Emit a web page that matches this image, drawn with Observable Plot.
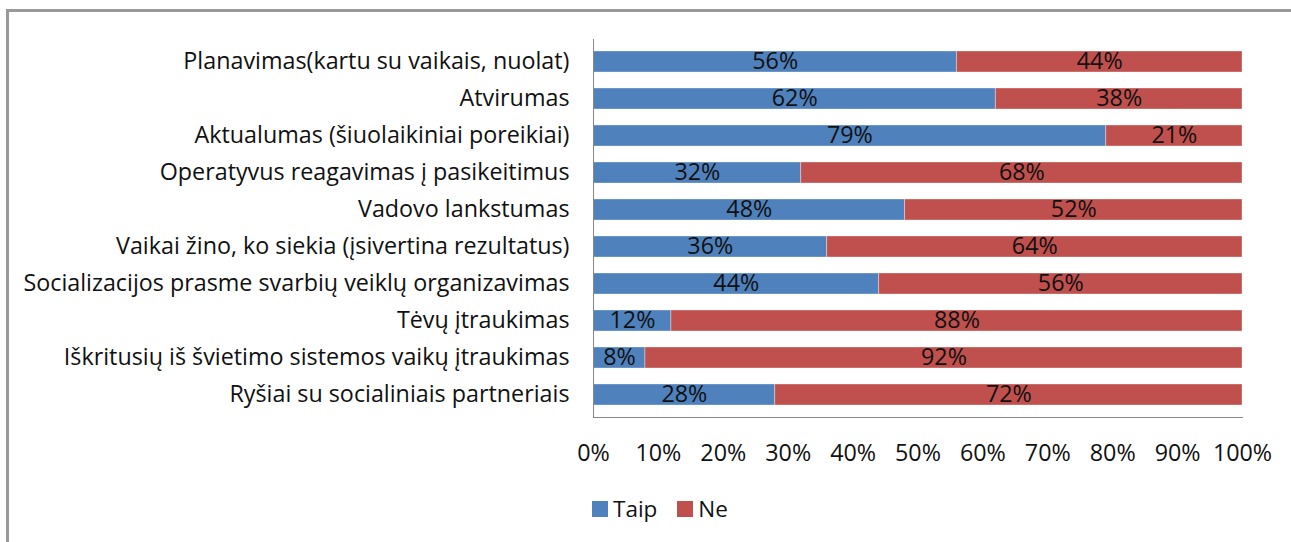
<!DOCTYPE html>
<html>
<head>
<meta charset="utf-8">
<script src="https://cdn.jsdelivr.net/npm/d3@7"></script>
<script src="https://cdn.jsdelivr.net/npm/@observablehq/plot@0.6"></script>
<style>
  html, body { margin: 0; padding: 0; background: #fff; overflow: hidden; }
  #wrap { position: relative; width: 1291px; height: 542px; overflow: hidden; font-family: "Open Sans", sans-serif; }
  #ftop { position: absolute; left: 6px; top: 9px; width: 1285px; height: 3px; background: #999; }
  #fleft { position: absolute; left: 6px; top: 9px; width: 3px; height: 533px; background: #999; }
  #chart { position: absolute; left: 0; top: 0; }
  #legend { position: absolute; top: 493px; left: 592px; display: flex; align-items: center; font-size: 22.5px; color: #111; }
  #legend .sw { display: inline-block; width: 16px; height: 16px; margin-right: 5px; }
  #legend .item { display: flex; align-items: center; margin-right: 20px; }
</style>
</head>
<body>
<div id="wrap">
  <div id="ftop"></div>
  <div id="fleft"></div>
  <div id="chart"></div>
  <div id="legend"></div>
</div>
<script>
const categories = [
  "Planavimas(kartu su vaikais, nuolat)",
  "Atvirumas",
  "Aktualumas (šiuolaikiniai poreikiai)",
  "Operatyvus reagavimas į pasikeitimus",
  "Vadovo lankstumas",
  "Vaikai žino, ko siekia (įsivertina rezultatus)",
  "Socializacijos prasme svarbių veiklų organizavimas",
  "Tėvų įtraukimas",
  "Iškritusių iš švietimo sistemos vaikų įtraukimas",
  "Ryšiai su socialiniais partneriais"
];
const seriesNames = ["Taip", "Ne"];
const taip = [56, 62, 79, 32, 48, 36, 44, 12, 8, 28];
const ne   = [44, 38, 21, 68, 52, 64, 56, 88, 92, 72];
const colors = ["#4F81BD", "#C0504D"];
const xTicks = [0, 10, 20, 30, 40, 50, 60, 70, 80, 90, 100];

const data = [];
categories.forEach((c, i) => {
  data.push({category: c, series: "Taip", value: taip[i]});
  data.push({category: c, series: "Ne", value: ne[i]});
});

const font = "Open Sans, sans-serif";
const fs = 23.3;
const chart = Plot.plot({
  width: 1291,
  height: 480,
  marginLeft: 593,
  marginRight: 49,
  marginTop: 39,
  marginBottom: 63,
  style: {fontFamily: font, fontSize: fs + "px", color: "#111", background: "transparent"},
  x: {domain: [0, 100], ticks: xTicks, tickFormat: d => d + "%", label: null},
  y: {domain: categories, paddingInner: 0.42, paddingOuter: 0.21, label: null},
  color: {domain: seriesNames, range: colors},
  marks: [
    Plot.barX(data, Plot.stackX({x: "value", y: "category", fill: "series", stroke: "#ffffff", strokeOpacity: 0.35, strokeWidth: 1, order: seriesNames})),
    Plot.text(data, Plot.stackX({x: "value", y: "category", z: "series", text: d => d.value + "%", order: seriesNames, fill: "#111", fontSize: fs, fontFamily: font})),
    Plot.ruleX([0], {stroke: "#888", strokeWidth: 1}),
    Plot.frame({anchor: "bottom", stroke: "#888"}),
    Plot.axisX({ticks: xTicks, tickFormat: d => d + "%", tickSize: 0, tickPadding: 27, label: null, fontSize: fs}),
    Plot.axisY({tickSize: 0, tickPadding: 24, label: null, fontSize: fs})
  ]
});
document.getElementById("chart").appendChild(chart);

const legend = document.getElementById("legend");
seriesNames.forEach((s, i) => {
  const item = document.createElement("span");
  item.className = "item";
  const sw = document.createElement("span");
  sw.className = "sw";
  sw.style.background = colors[i];
  item.appendChild(sw);
  item.appendChild(document.createTextNode(s));
  legend.appendChild(item);
});
</script>
</body>
</html>
